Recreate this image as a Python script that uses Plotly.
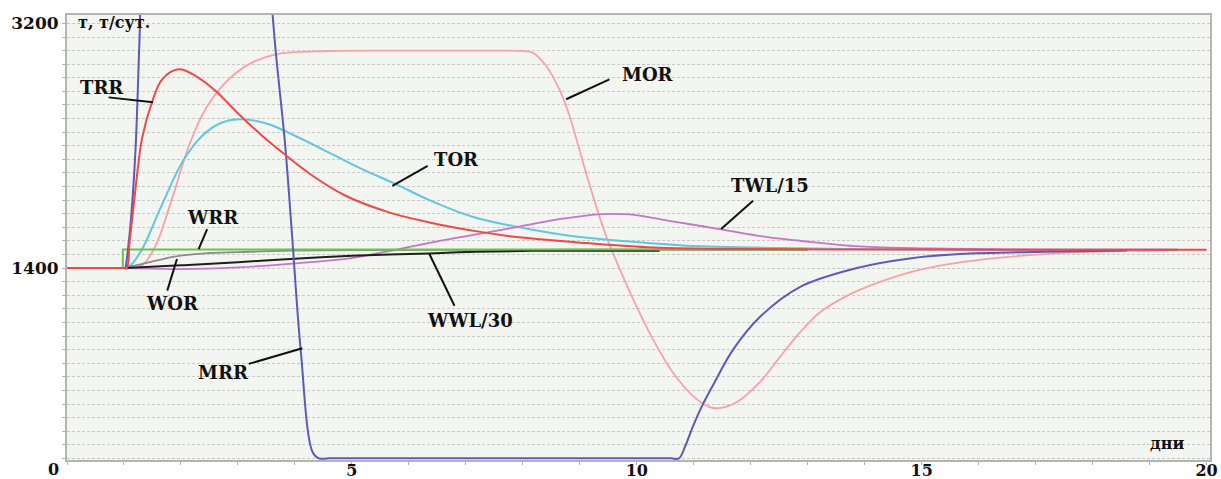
import plotly.graph_objects as go

# ---- data (days, т / т/сут.) ----
trr_x = [0, 0.5, 0.9, 1.0, 1.05, 1.1, 1.17, 1.22, 1.32, 1.49, 1.67, 1.96, 2.26, 2.61, 3.02, 3.43, 3.78, 4.31, 4.89, 5.65, 6.36, 7.2, 7.94, 9.11, 10.28, 12, 14, 16, 18, 20]
trr_y = [1400, 1400, 1400, 1400, 1400, 1600, 1860, 2050, 2360, 2618, 2789, 2862, 2813, 2703, 2530, 2372, 2250, 2079, 1932, 1810, 1736, 1670, 1626, 1584, 1552, 1540, 1537, 1535, 1535, 1535]

mor_x = [1.0, 1.08, 1.2, 1.32, 1.55, 1.85, 2.14, 2.43, 2.78, 3.19, 3.66, 4.6, 6, 7.5, 7.94, 8.17, 8.41, 8.64, 8.82, 8.99, 9.23, 9.46, 9.7, 9.99, 10.28, 10.63, 10.98, 11.28, 11.45, 11.75, 12.16, 12.51, 12.86, 13.2, 13.55, 13.91, 14.79, 15.67, 17.13, 18, 19.5]
mor_y = [1400, 1400, 1405, 1420, 1560, 1920, 2300, 2569, 2765, 2899, 2973, 2997, 3000, 3000, 2997, 2985, 2887, 2716, 2519, 2275, 1932, 1638, 1393, 1123, 879, 634, 462, 377, 370, 413, 561, 745, 925, 1070, 1165, 1240, 1369, 1442, 1503, 1520, 1532]

tor_x = [1.0, 1.05, 1.14, 1.32, 1.65, 2.02, 2.37, 2.72, 3.08, 3.54, 4.01, 4.6, 5.18, 5.77, 6.36, 7.1, 7.94, 8.82, 9.7, 10.87, 12.86, 14.5, 16.5, 18.5, 19.5]
tor_y = [1400, 1400, 1430, 1540, 1850, 2177, 2372, 2471, 2495, 2458, 2372, 2250, 2128, 2018, 1900, 1780, 1700, 1638, 1601, 1565, 1545, 1538, 1535, 1535, 1535]

twl_x = [1.0, 1.05, 2.0, 3.0, 4.07, 4.95, 5.83, 6.71, 7.94, 8.64, 9.4, 9.87, 10.57, 11.45, 12.33, 12.86, 13.91, 15.09, 16.5, 18, 19.5]
twl_y = [1400, 1400, 1392, 1405, 1437, 1471, 1540, 1613, 1705, 1760, 1797, 1795, 1748, 1687, 1626, 1601, 1560, 1545, 1538, 1535, 1535]

wor_x = [1.03, 1.15, 1.32, 1.6, 1.91, 2.49, 3.2, 3.95, 5, 7, 9, 11, 13]
wor_y = [1400, 1415, 1430, 1458, 1486, 1510, 1520, 1528, 1532, 1534, 1535, 1535, 1535]

wwl_x = [1.03, 2.0, 3.0, 4.07, 5.0, 6.36, 7.2, 8.17, 9.3, 10.4]
wwl_y = [1400, 1420, 1443, 1471, 1490, 1508, 1520, 1527, 1528, 1528]

wrr_x = [0.98, 0.98, 13]
wrr_y = [1400, 1537, 1537]

mrr_x = [1.03, 1.11, 1.2, 1.27, 1.33, 2.4, 3.4, 3.66, 3.83, 3.95, 4.1, 4.31, 4.42, 4.6, 6, 8, 10, 10.6, 10.74, 10.85, 10.98, 11.15, 11.34, 11.69, 12.16, 12.86, 13.91, 14.79, 15.67, 17.13, 18.6]
mrr_y = [1400, 1700, 2250, 3050, 3700, 8000, 4300, 3010, 2299, 1640, 805, 46, 0, 0, 0, 0, 0, 0, 0, 90, 230, 390, 540, 800, 1040, 1260, 1405, 1471, 1503, 1520, 1530]

x_ticks = [5, 10, 15, 20]
y_ticks = [1400, 3200]

FONT = "DejaVu Serif"

fig = go.Figure()

def add(x, y, color, width, shape="spline"):
    fig.add_trace(go.Scatter(x=x, y=y, mode="lines",
                             line=dict(color=color, width=width, shape=shape, smoothing=1.0),
                             showlegend=False, hoverinfo="skip"))

add(mor_x, mor_y, "#f5a3a8", 1.8)
add(tor_x, tor_y, "#62c6dc", 2)
add(twl_x, twl_y, "#c775c8", 1.8)
add(wor_x, wor_y, "#8a8a8a", 1.8)
add(wwl_x, wwl_y, "#1e1e1e", 2)
add(wrr_x, wrr_y, "#6cc24a", 2, "linear")
add(mrr_x, mrr_y, "#5a5ab9", 2)
add(trr_x, trr_y, "#f04848", 2)

# labels: (text, text x, text y, pointer tail x, y, pointer head x, y)
labels = [
    ("TRR", 0.61, 2730, 0.73, 2656, 1.51, 2620),
    ("MOR", 10.19, 2826, 9.52, 2789, 8.76, 2642),
    ("TOR", 6.83, 2201, 6.33, 2152, 5.71, 2005),
    ("TWL/15", 12.33, 2010, 12.04, 1895, 11.48, 1687),
    ("WRR", 2.56, 1774, 2.46, 1687, 2.31, 1540),
    ("WOR", 1.86, 1136, 1.76, 1234, 1.93, 1467),
    ("WWL/30", 7.08, 1018, 6.80, 1123, 6.36, 1504),
    ("MRR", 2.74, 629, 3.19, 695, 4.13, 810),
]
for t, tx, ty, x0, y0, x1, y1 in labels:
    fig.add_annotation(x=tx, y=ty, text=t, showarrow=False,
                       font=dict(family=FONT, size=18, color="#111111", weight="bold"))
    fig.add_shape(type="line", x0=x0, y0=y0, x1=x1, y1=y1, xref="x", yref="y",
                  line=dict(color="#111111", width=2))

fig.add_annotation(x=0.15, y=3204, text="т, т/сут.", showarrow=False, xanchor="left",
                   font=dict(family=FONT, size=16, color="#111111", weight="bold"))
fig.add_annotation(x=19.31, y=107, text="дни", showarrow=False,
                   font=dict(family=FONT, size=16, color="#111111", weight="bold"))
fig.add_annotation(x=0, y=-12, text="0", showarrow=False, xanchor="right", yanchor="top",
                   xshift=-6, yshift=2,
                   font=dict(family=FONT, size=16, color="#111111", weight="bold"))

fig.update_layout(
    width=1221, height=479,
    margin=dict(l=67, r=11, t=15, b=19, autoexpand=False),
    paper_bgcolor="white",
    plot_bgcolor="#f3f5f1",
    xaxis=dict(range=[0, 20.06], showgrid=False, zeroline=False, automargin=False,
               tickvals=x_ticks, ticktext=[str(v) for v in x_ticks],
               tickfont=dict(family=FONT, size=16, color="#111111", weight="bold"),
               ticklabelstandoff=-8,
               ticks="outside", ticklen=3, tickcolor="#b0b0b0",
               minor=dict(dtick=1, ticks="outside", ticklen=3, tickcolor="#b0b0b0", showgrid=False),
               showline=True, linecolor="#b4b4b4", linewidth=2, mirror=True),
    yaxis=dict(range=[-12, 3262], zeroline=False, automargin=False,
               tickvals=y_ticks, ticktext=[str(v) for v in y_ticks],
               tickfont=dict(family=FONT, size=17, color="#111111", weight="bold"),
               showgrid=True, gridcolor="#c8c8c8", griddash="3px,2px", gridwidth=1,
               ticks="outside", ticklen=3, tickcolor="#b0b0b0",
               minor=dict(tick0=0, dtick=100, showgrid=True, gridcolor="#c8c8c8", griddash="3px,2px",
                          ticks="outside", ticklen=3, tickcolor="#b0b0b0"),
               showline=True, linecolor="#b4b4b4", linewidth=2, mirror=True),
)

fig.write_html("out.html", config={"displayModeBar": False},
               post_script="document.body.style.margin='0';")
